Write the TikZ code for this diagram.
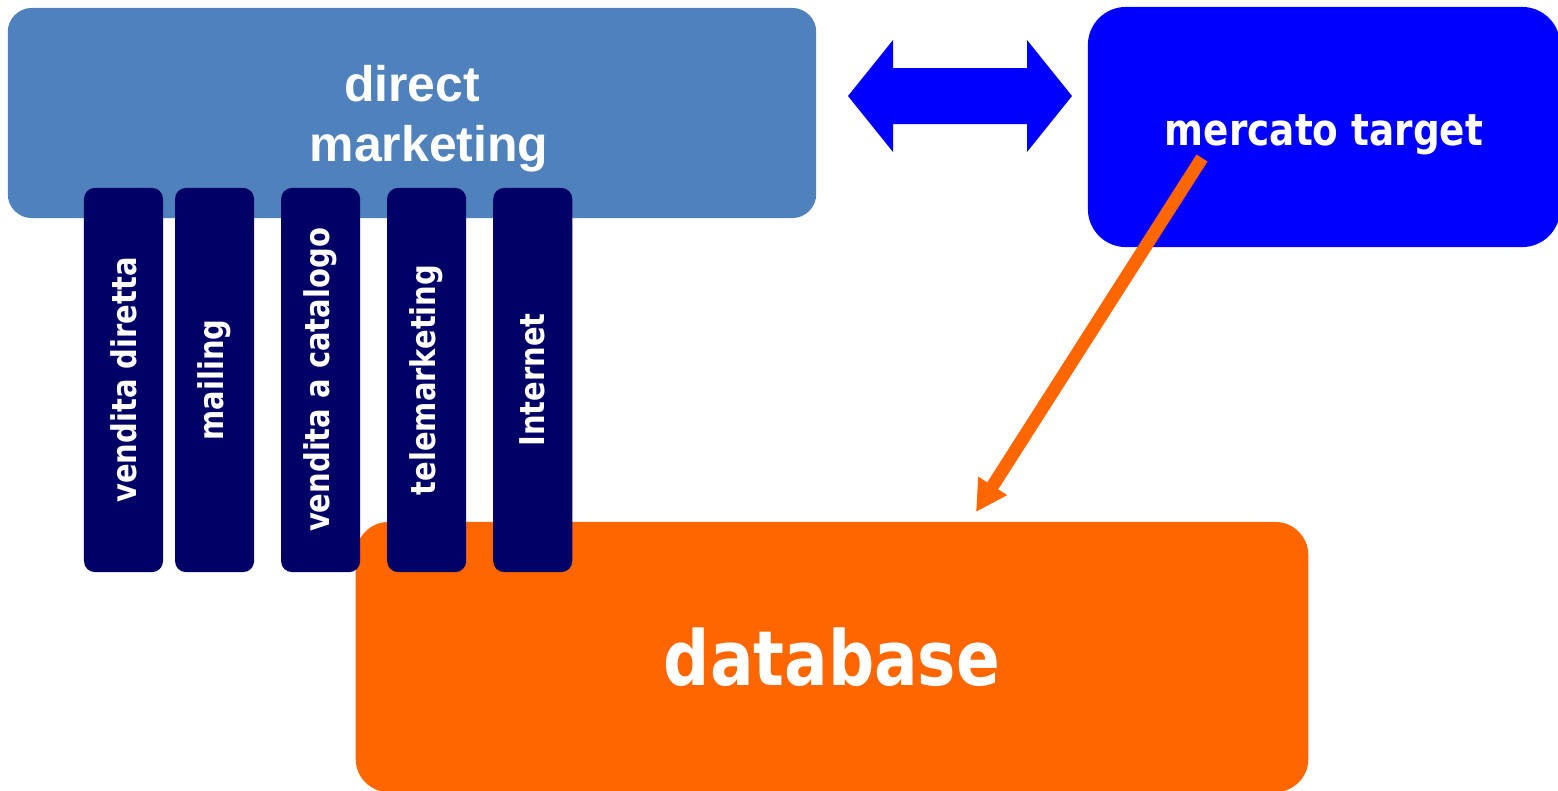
\documentclass[tikz,border=0pt]{standalone}
\usepackage{fontspec}
\setmainfont{DejaVu Sans}
\newfontfamily\tahomafont[FakeStretch=0.85]{DejaVu Sans}
\newfontfamily\arialfont{Liberation Sans}
\usepackage{graphicx}
\usetikzlibrary{positioning, arrows.meta}
\definecolor{dmblue}{HTML}{4F81BD}
\definecolor{navy}{HTML}{000066}
\definecolor{pureblue}{HTML}{0000FF}
\definecolor{dborange}{HTML}{FF6600}

\begin{document}
\begin{tikzpicture}[x=0.01cm, y=-0.01cm]
                \tikzset{
                    box/.style={rectangle, inner sep=0pt, outer sep=0pt, text=white},
                    channel/.style={box, fill=navy, rounded corners=0.11cm,
                        minimum width=0.79cm, minimum height=3.84cm,
                        font=\tahomafont\bfseries\fontsize{9.7}{11}\selectfont}
                }
                \useasboundingbox (0,0) rectangle (1558,790);

                % BOXES
                \node[box, fill=dmblue, rounded corners=0.24cm, minimum width=8.08cm, minimum height=2.10cm] (dm) at (412,113) {};
                \node[box, align=center, font=\arialfont\bfseries\fontsize{14.2}{17.1}\selectfont]
                    (dmlabel) at ([yshift=-0.06cm]dm.center) {direct\\\hspace*{0.34cm}marketing};
                \node[box, fill=pureblue, rounded corners=0.38cm, minimum width=4.72cm, minimum height=2.40cm,
                    text height=0.47cm, text depth=0.10cm,
                    font=\tahomafont\bfseries\fontsize{12.5}{15}\selectfont]
                    (mt) at (1324,127) {mercato target};
                \node[box, fill=dborange, rounded corners=0.33cm, minimum width=9.52cm, minimum height=2.70cm,
                    font=\tahomafont\bfseries\fontsize{21.6}{26}\selectfont]
                    (db) at (832,657) {database};

                % CHANNELS
                \node[channel] (vd) at (123.5,380) {\rotatebox{90}{vendita diretta}};
                \node[channel] (ml) [right=0.12cm of vd] {\rotatebox{90}{mailing}};
                \node[channel] (vc) [right=0.27cm of ml] {\rotatebox{90}{vendita a catalogo}};
                \node[channel] (tm) [right=0.27cm of vc] {\rotatebox{90}{telemarketing}};
                \node[channel] (in) [right=0.27cm of tm] {\rotatebox{90}{Internet}};

                % ARROWS
                \fill[pureblue] (848,96) -- (893,40) -- (893,68) -- (1027,68) -- (1027,40) -- (1072,96)
                    -- (1027,152) -- (1027,124) -- (893,124) -- (893,152) -- cycle;

                \coordinate (mtfoot) at (1202,158);
                \coordinate (dbtop) at (976,512);
                \draw[dborange, line width=0.13cm, -{Triangle[length=0.31cm, width=0.32cm]}] (mtfoot) -- (dbtop);

            \end{tikzpicture}
\end{document}
